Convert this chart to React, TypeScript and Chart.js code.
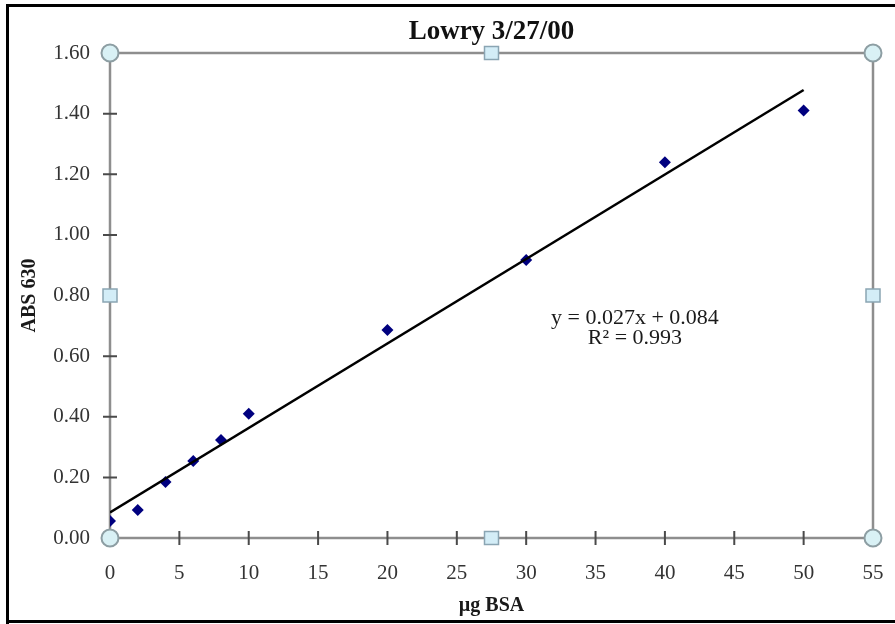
import React, { useEffect, useRef } from "react";
import { Chart, registerables } from "chart.js";

Chart.register(...registerables);

// ---- data ----
const xValues = [0, 2, 4, 6, 8, 10, 20, 30, 40, 50];
const yValues = [0.056, 0.092, 0.185, 0.254, 0.323, 0.41, 0.686, 0.917, 1.24, 1.41];
const trendX = [0, 50];
const trendY = [0.084, 1.478];
const equationLines = ["y = 0.027x + 0.084", "R² = 0.993"];
const titleText = "Lowry 3/27/00";
const xTitle = "µg BSA";
const yTitle = "ABS 630";
const xMin = 0;
const xMax = 55;
const xStep = 5;
const yMin = 0;
const yMax = 1.6;
const yStep = 0.2;

const SERIF = "'Liberation Serif', 'Times New Roman', serif";
const W = 895;
const H = 624;

function drawCircleHandle(ctx: CanvasRenderingContext2D, x: number, y: number) {
  ctx.save();
  ctx.beginPath();
  ctx.arc(x, y, 8.5, 0, Math.PI * 2);
  ctx.fillStyle = "#d9f1f5";
  ctx.fill();
  ctx.lineWidth = 2;
  ctx.strokeStyle = "#8d9ea3";
  ctx.stroke();
  ctx.restore();
}

function drawSquareHandle(ctx: CanvasRenderingContext2D, x: number, y: number) {
  ctx.save();
  ctx.fillStyle = "#d3edf7";
  ctx.strokeStyle = "#8aa5b3";
  ctx.lineWidth = 1.5;
  ctx.fillRect(x - 7, y - 6.5, 14, 13);
  ctx.strokeRect(x - 7, y - 6.5, 14, 13);
  ctx.restore();
}

const framePlugin = {
  id: "frame",
  beforeDraw(chart: any) {
    const ctx = chart.ctx as CanvasRenderingContext2D;
    ctx.save();
    ctx.fillStyle = "#ffffff";
    ctx.fillRect(0, 0, chart.width, chart.height);
    ctx.fillStyle = "#000000";
    ctx.fillRect(6, 4, chart.width - 6, 3);
    ctx.fillRect(6, 4, 3, chart.height - 4);
    ctx.fillRect(6, 620, chart.width - 6, 3);
    ctx.restore();
  },
  beforeDatasetsDraw(chart: any) {
    const ctx = chart.ctx as CanvasRenderingContext2D;
    const { left, right, top, bottom } = chart.chartArea;
    const xs = chart.scales.x;
    const ys = chart.scales.y;
    ctx.save();
    ctx.strokeStyle = "#8e8e8e";
    ctx.lineWidth = 2.5;
    ctx.beginPath();
    ctx.rect(left, top, right - left, bottom - top);
    ctx.stroke();
    ctx.strokeStyle = "#4a4a4a";
    ctx.lineWidth = 2;
    ctx.beginPath();
    xs.ticks.forEach((t: any) => {
      if (t.value <= xMin || t.value >= xMax) return;
      const px = xs.getPixelForValue(t.value);
      ctx.moveTo(px, bottom - 7);
      ctx.lineTo(px, bottom + 7);
    });
    ys.ticks.forEach((t: any) => {
      if (t.value <= yMin || t.value >= yMax - 1e-9) return;
      const py = ys.getPixelForValue(t.value);
      ctx.moveTo(left - 7, py);
      ctx.lineTo(left + 7, py);
    });
    ctx.stroke();
    ctx.restore();
  },
  afterDatasetsDraw(chart: any) {
    const ctx = chart.ctx as CanvasRenderingContext2D;
    const { left, right, top, bottom } = chart.chartArea;
    const cx = (left + right) / 2;
    const cy = (top + bottom) / 2;
    drawCircleHandle(ctx, left, top);
    drawCircleHandle(ctx, right, top);
    drawCircleHandle(ctx, left, bottom);
    drawCircleHandle(ctx, right, bottom);
    drawSquareHandle(ctx, cx, top);
    drawSquareHandle(ctx, cx, bottom);
    drawSquareHandle(ctx, left, cy);
    drawSquareHandle(ctx, right, cy);

    // trendline label
    ctx.save();
    ctx.fillStyle = "#1a1a1a";
    ctx.font = `22px ${SERIF}`;
    ctx.textAlign = "center";
    ctx.textBaseline = "middle";
    const ex = left + (right - left) * 0.688;
    const ey = top + (bottom - top) * 0.546;
    equationLines.forEach((line, i) => ctx.fillText(line, ex, ey + i * 20.5));
    ctx.restore();
  },
};

export default function App() {
  const ref = useRef<HTMLCanvasElement | null>(null);

  useEffect(() => {
    if (!ref.current) return;
    const chart = new Chart(ref.current, {
      type: "scatter",
      data: {
        datasets: [
          {
            type: "line",
            label: "Linear (trend)",
            data: trendX.map((x, i) => ({ x, y: trendY[i] })),
            borderColor: "#000000",
            borderWidth: 2.5,
            pointRadius: 0,
            fill: false,
            order: 0,
          } as any,
          {
            type: "scatter",
            label: "ABS 630",
            data: xValues.map((x, i) => ({ x, y: yValues[i] })),
            pointStyle: "rectRot",
            pointRadius: 6,
            pointBackgroundColor: "#00007f",
            pointBorderColor: "#00007f",
            pointBorderWidth: 0,
            order: 1,
          },
        ],
      },
      options: {
        responsive: false,
        animation: false,
        devicePixelRatio: 1,
        layout: { padding: { left: 0, right: 22, top: 0, bottom: 0 } },
        plugins: {
          legend: { display: false },
          tooltip: { enabled: false },
          title: {
            display: true,
            fullSize: false,
            text: titleText,
            color: "#111111",
            font: { family: SERIF, size: 27, weight: "bold" },
            padding: { top: 16, bottom: 4.6 },
          },
        },
        scales: {
          x: {
            type: "linear",
            min: xMin,
            max: xMax,
            grid: { display: false, drawTicks: false },
            border: { display: false },
            ticks: {
              stepSize: xStep,
              color: "#333333",
              font: { family: SERIF, size: 21 },
              padding: 23,
              maxRotation: 0,
            },
            title: {
              display: true,
              text: xTitle,
              color: "#1a1a1a",
              font: { family: SERIF, size: 20, weight: "bold" },
              padding: 6,
            },
            afterFit: (s: any) => {
              s.height = 86;
              s.paddingLeft = 0;
              s.paddingRight = 0;
            },
          },
          y: {
            type: "linear",
            min: yMin,
            max: yMax,
            grid: { display: false, drawTicks: false },
            border: { display: false },
            ticks: {
              stepSize: yStep,
              color: "#333333",
              font: { family: SERIF, size: 21 },
              padding: 20,
              callback: (v: any) => Number(v).toFixed(2),
            },
            title: {
              display: true,
              text: yTitle,
              color: "#1a1a1a",
              font: { family: SERIF, size: 20, weight: "bold" },
              padding: 18,
            },
            afterFit: (s: any) => {
              s.width = 110;
              s.paddingTop = 0;
              s.paddingBottom = 0;
            },
          },
        },
      },
      plugins: [framePlugin],
    });
    return () => chart.destroy();
  }, []);

  return (
    <div style={{ position: "absolute", left: 0, top: 0, width: W, height: H }}>
      <canvas ref={ref} width={W} height={H} style={{ display: "block", width: W, height: H }} />
    </div>
  );
}
